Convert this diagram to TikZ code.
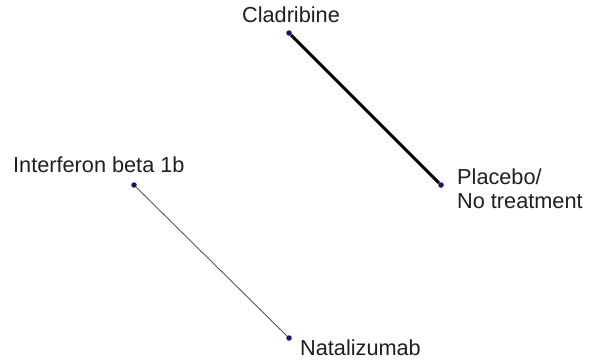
\documentclass[tikz,border=0pt]{standalone}
\usepackage{fontspec}
\setmainfont{Liberation Sans}
\begin{document}
\begin{tikzpicture}[x=1pt,y=-1pt,
  trt/.style={circle,fill=navydot,inner sep=0pt,minimum size=5.5pt},
  lbl/.style={font=\fontsize{21.7}{23.5}\selectfont,text=black!88,inner sep=0pt,align=left},
  thickedge/.style={line width=3pt,black},
  thinedge/.style={line width=0.9pt,black!65}]
\definecolor{navydot}{RGB}{20,20,120}
\useasboundingbox[fill=white] (0,0) rectangle (593,362);
% treatment nodes
\node[trt] (clad) at (289,33) {};
\node[trt] (plac) at (441,185) {};
\node[trt] (ifn)  at (134,185) {};
\node[trt] (nat)  at (289,338) {};
% comparisons
\draw[thickedge] (clad) -- (plac);
\draw[thinedge] (ifn) -- (nat);
% labels
\node[lbl,anchor=base] (cladl) at (291,22) {Cladribine};
\node[lbl,anchor=north west] (placl) at (457,169) {Placebo/\\No treatment};
\node[lbl,anchor=base west] (ifnl) at (13,172) {Interferon beta 1b};
\node[lbl,anchor=base west] (natl) at (300,355) {Natalizumab};
\end{tikzpicture}
\end{document}
